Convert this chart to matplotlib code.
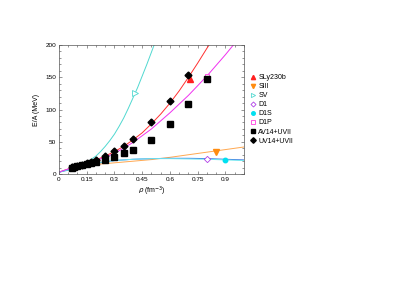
"""Neutron matter energy per particle: Skyrme / Gogny forces vs. variational results."""
import matplotlib
matplotlib.use("Agg")
import matplotlib.pyplot as plt
from matplotlib.ticker import MultipleLocator

plt.rcParams['font.family'] = ['Liberation Sans', 'DejaVu Sans']

# curves
rho_sly = [0.0, 0.05, 0.1, 0.15, 0.2, 0.25, 0.3, 0.35, 0.4, 0.45, 0.5, 0.55,
           0.6, 0.65, 0.7, 0.75, 0.8, 0.83]
e_sly = [3, 8, 12, 17, 22, 28, 35, 43, 53, 64, 78, 93, 110, 129, 150, 172, 195, 208]

rho_siii = [0.0, 0.05, 0.1, 0.15, 0.2, 0.3, 0.4, 0.5, 0.6, 0.7, 0.8, 0.9, 1.0]
e_siii = [3, 7, 10, 13, 15, 17.5, 20, 22.5, 26, 30, 34, 38, 42]

rho_sv = [0.0, 0.05, 0.1, 0.15, 0.2, 0.225, 0.25, 0.275, 0.3, 0.325, 0.35, 0.375,
          0.4, 0.425, 0.45, 0.475, 0.5, 0.53]
e_sv = [3, 6, 11, 18, 28, 35, 43, 52, 62, 74, 87, 102, 118, 134, 152, 170, 189, 212]

rho_d1 = [0.0, 0.05, 0.1, 0.15, 0.2, 0.3, 0.4, 0.5, 0.6, 0.7, 0.8, 0.9, 1.0]
e_d1 = [3, 7, 11, 14, 17, 21, 23, 24, 24.5, 24.5, 24, 23, 22]

rho_d1s = [0.0, 0.05, 0.1, 0.15, 0.2, 0.3, 0.4, 0.5, 0.6, 0.7, 0.8, 0.9, 1.0]
e_d1s = [3, 7, 11, 14, 17, 21, 23, 24, 24, 23.5, 23, 22, 21]

rho_d1p = [0.0, 0.05, 0.1, 0.15, 0.2, 0.3, 0.4, 0.5, 0.6, 0.7, 0.8, 0.9, 0.96]
e_d1p = [3, 8, 12, 16, 21, 32, 49, 70, 95, 122, 152, 185, 206]

# single points on each curve
pt_sly = (0.71, 148)
pt_siii = (0.85, 35)
pt_sv = (0.41, 125)
pt_d1 = (0.80, 23)
pt_d1s = (0.90, 22)
pt_d1p = (0.80, 152)

# variational results
rho_av14 = [0.07, 0.08, 0.1, 0.125, 0.15, 0.175, 0.2, 0.25, 0.3, 0.35, 0.4, 0.5, 0.6, 0.7, 0.8]
e_av14 = [10.1, 10.9, 12.2, 13.7, 15.2, 17.0, 18.8, 22.3, 27.0, 32.0, 37.9, 53.0, 77.4, 109.1, 148.0]

rho_uv14 = [0.07, 0.08, 0.1, 0.125, 0.15, 0.175, 0.2, 0.25, 0.3, 0.35, 0.4, 0.5, 0.6, 0.7]
e_uv14 = [10.4, 11.3, 12.8, 14.8, 16.9, 19.3, 22.1, 28.6, 35.8, 44.2, 54.2, 80.3, 112.6, 153.9]

fig = plt.figure(figsize=(3.96, 3.06), dpi=100)
ax = fig.add_axes([0.149, 0.431, 0.467, 0.422])

lw = 0.7
ax.plot(rho_sly, e_sly, color='#ff3030', lw=lw)
ax.plot(rho_siii, e_siii, color='#ffa850', lw=lw)
ax.plot(rho_sv, e_sv, color='#50d8d0', lw=lw)
ax.plot(rho_d1, e_d1, color='#3a70e0', lw=lw)
ax.plot(rho_d1s, e_d1s, color='#70e8f0', lw=lw)
ax.plot(rho_d1p, e_d1p, color='#f030f0', lw=lw)

ms = 3.8
ax.plot(*pt_sly, '^', color='#ff2020', ms=ms, label='SLy230b')
ax.plot(*pt_siii, 'v', color='#ff8c10', ms=ms, label='SIII')
ax.plot(*pt_sv, '>', color='#50d8d0', mfc='white', mew=0.6, ms=ms, label='SV')
ax.plot(*pt_d1, 'D', color='#b040e8', mfc='white', mew=0.6, ms=3.2, label='D1')
ax.plot(*pt_d1s, 'o', color='#00e0f0', ms=3.2, label='D1S')
ax.plot(*pt_d1p, 's', color='#ff40e0', mfc='white', mew=0.6, ms=3.5, label='D1P')
ax.plot(rho_av14, e_av14, 's', color='black', ms=3.9, ls='none', label='AV14+UVII')
ax.plot(rho_uv14, e_uv14, 'D', color='black', ms=3.5, ls='none', label='UV14+UVII')

ax.set_xlim(0, 1.0)
ax.set_ylim(0, 200)
ax.set_xticks([0, 0.15, 0.3, 0.45, 0.6, 0.75, 0.9])
ax.set_xticklabels(['0', '0.15', '0.3', '0.45', '0.6', '0.75', '0.9'])
ax.xaxis.set_minor_locator(MultipleLocator(0.05))
ax.yaxis.set_major_locator(MultipleLocator(50))
ax.yaxis.set_minor_locator(MultipleLocator(10))
ax.tick_params(which='both', direction='in', top=True, right=True,
               labelsize=4.6, width=0.4, colors='#444444', labelcolor='black', pad=2)
ax.tick_params(which='major', length=2.5)
ax.tick_params(which='minor', length=1.3)
for sp in ax.spines.values():
    sp.set_linewidth(0.5)
    sp.set_color('#555555')

ax.set_xlabel(r'$\rho$ (fm$^{-3}$)', fontsize=5, labelpad=2)
ax.set_ylabel('E/A (MeV)', fontsize=5, labelpad=4)

ax.legend(loc='upper left', bbox_to_anchor=(1.04, 0.775), frameon=False,
          fontsize=5, labelspacing=0.3, handlelength=0.6, handletextpad=0.4,
          borderpad=0, borderaxespad=0, numpoints=1, markerscale=0.8)

fig.savefig('out.png', dpi=100)
